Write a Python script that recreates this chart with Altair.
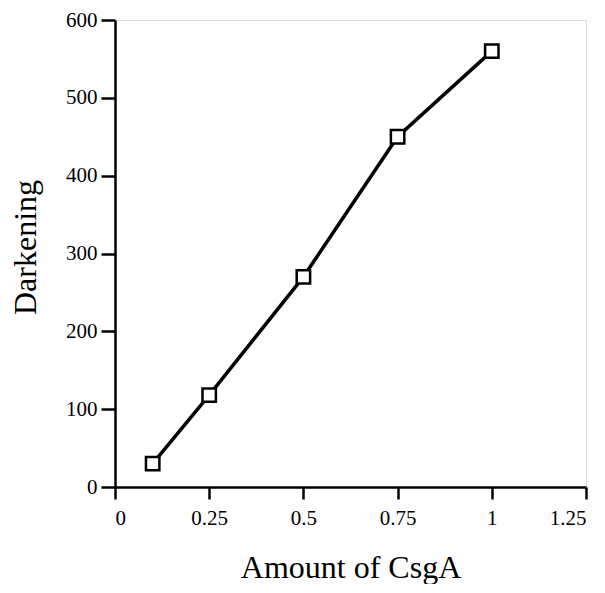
import altair as alt
import pandas as pd

amount = [0.1, 0.25, 0.5, 0.75, 1.0]
darkening = [30, 118, 270, 450, 560]
x_ticks = [0, 0.25, 0.5, 0.75, 1, 1.25]
y_ticks = [0, 100, 200, 300, 400, 500, 600]

df = pd.DataFrame({"amount": amount, "darkening": darkening})

FONT = "Liberation Serif"

x_enc = alt.X(
    "amount:Q",
    scale=alt.Scale(domain=[0, 1.25], nice=False, zero=False),
    axis=alt.Axis(
        title="Amount of CsgA",
        values=x_ticks,
        labelExpr="datum.value + ''",
        grid=False,
        domainColor="black",
        domainWidth=2.5,
        tickColor="black",
        tickWidth=2.5,
        tickSize=12,
        labelFont=FONT,
        labelFontSize=21,
        labelColor="black",
        labelPadding=8,
        titleFont=FONT,
        titleFontSize=32,
        titleFontWeight="normal",
        titleColor="black",
        titleY=90,
        titleBaseline="alphabetic",
    ),
)

y_enc = alt.Y(
    "darkening:Q",
    scale=alt.Scale(domain=[0, 600], nice=False),
    axis=alt.Axis(
        title="Darkening",
        values=y_ticks,
        grid=False,
        domainColor="black",
        domainWidth=2.5,
        tickColor="black",
        tickWidth=2.5,
        tickSize=14,
        labelFont=FONT,
        labelFontSize=21,
        labelColor="black",
        labelPadding=4,
        titleFont=FONT,
        titleFontSize=32,
        titleFontWeight="normal",
        titleColor="black",
        titleX=-80,
        titleY=227,
        titleBaseline="alphabetic",
    ),
)

line = alt.Chart(df).mark_line(color="black", strokeWidth=3.5).encode(x=x_enc, y=y_enc)
points = alt.Chart(df).mark_point(
    shape="square", filled=True, fill="white", stroke="black", strokeWidth=2.5, size=180, opacity=1
).encode(x="amount:Q", y="darkening:Q")

chart = (
    alt.layer(line, points)
    .properties(
        width=471,
        height=467,
        autosize=alt.AutoSizeParams(type="none"),
        padding={"left": 107, "top": 12, "right": 10, "bottom": 97},
    )
    .configure_view(stroke=None)
    .configure(background="white")
)

chart.save("out.html", embed_options={"renderer": "svg", "actions": False})
